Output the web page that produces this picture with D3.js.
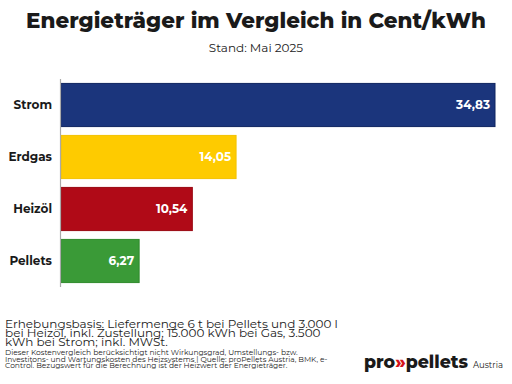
<!DOCTYPE html>
<html><head><meta charset="utf-8">
<script src="https://cdn.jsdelivr.net/npm/d3@7"></script>
<style>body{margin:0;background:#fff}svg{display:block}</style>
</head><body>
<script>
const categories = ["Strom", "Erdgas", "Heizöl", "Pellets"];
const values = [34.83, 14.05, 10.54, 6.27];
const valueLabels = ["34,83", "14,05", "10,54", "6,27"];
const colors = ["#1b357c", "#fecb00", "#b00a17", "#3a9a37"];
const strokes = ["#0f2460", "#f3c200", "#9a0812", "#2f8a2c"];
const title = "Energieträger im Vergleich in Cent/kWh";
const subtitle = "Stand: Mai 2025";
const noteLines = ["Erhebungsbasis: Liefermenge 6 t bei Pellets und 3.000 l",
  "bei Heizöl, inkl. Zustellung; 15.000 kWh bei Gas, 3.500",
  "kWh bei Strom; inkl. MWSt."];
const smallLines = ["Dieser Kostenvergleich berücksichtigt nicht Wirkungsgrad, Umstellungs- bzw.",
  "Investitons- und Wartungskosten des Heizsystems | Quelle: proPellets Austria, BMK, e-",
  "Control. Bezugswert für die Berechnung ist der Heizwert der Energieträger."];

const W = 512, H = 384;
const font = "Montserrat, 'Open Sans', 'DejaVu Sans', sans-serif";
const svg = d3.select("body").append("svg").attr("width", W).attr("height", H);

svg.append("text").attr("x", 256).attr("y", 28).attr("text-anchor", "middle")
  .attr("font-family", font).attr("font-weight", 800).attr("font-size", 22)
  .attr("fill", "#1a1a1a").attr("textLength", 460).attr("lengthAdjust", "spacingAndGlyphs").text(title);
svg.append("text").attr("x", 256).attr("y", 52).attr("text-anchor", "middle")
  .attr("font-family", font).attr("font-size", 12).attr("fill", "#222").text(subtitle);

const x = d3.scaleLinear().domain([0, 34.83]).range([61, 495]);
const y = d3.scaleBand().domain(categories).range([79, 287]).paddingInner(0.17).paddingOuter(0.085);

const data = categories.map((c, i) => ({c, v: values[i], l: valueLabels[i], col: colors[i], s: strokes[i]}));

svg.append("g").selectAll("rect").data(data).join("rect")
  .attr("x", x(0)).attr("y", d => y(d.c)).attr("width", d => x(d.v) - x(0)).attr("height", y.bandwidth())
  .attr("fill", d => d.col).attr("stroke", d => d.s).attr("stroke-width", 1);

svg.append("line").attr("x1", 60.5).attr("x2", 60.5).attr("y1", 79).attr("y2", 287)
  .attr("stroke", "#aaa").attr("stroke-width", 1.2);

svg.append("g").selectAll("text").data(data).join("text")
  .attr("x", 52).attr("y", d => y(d.c) + y.bandwidth() / 2).attr("dy", "0.35em")
  .attr("text-anchor", "end").attr("font-family", font).attr("font-weight", "bold")
  .attr("font-size", 12).attr("fill", "#1a1a1a").text(d => d.c);

svg.append("g").selectAll("text").data(data).join("text")
  .attr("x", d => x(d.v) - 5).attr("y", d => y(d.c) + y.bandwidth() / 2).attr("dy", "0.35em")
  .attr("text-anchor", "end").attr("font-family", font).attr("font-weight", "bold")
  .attr("font-size", 12).attr("fill", "#fff").text(d => d.l);

svg.append("g").selectAll("text").data(noteLines).join("text")
  .attr("x", 5).attr("y", (d, i) => 328 + i * 9)
  .attr("font-family", font).attr("font-size", 12).attr("fill", "#222").text(d => d);

svg.append("g").selectAll("text").data(smallLines).join("text")
  .attr("x", 5).attr("y", (d, i) => 355 + i * 6.7)
  .attr("font-family", font).attr("font-size", 7.5).attr("fill", "#222").text(d => d);

const logo = svg.append("text").attr("x", 364).attr("y", 368)
  .attr("font-family", font).attr("font-weight", 800).attr("font-size", 18).attr("fill", "#1a1a1a")
  .attr("textLength", 104).attr("lengthAdjust", "spacingAndGlyphs");
logo.append("tspan").text("pro");
logo.append("tspan").attr("fill", "#d4121a").text("»");
logo.append("tspan").text("pellets");
svg.append("text").attr("x", 473).attr("y", 368).attr("font-family", font)
  .attr("font-size", 8.5).attr("fill", "#222").text("Austria");
</script>
</body></html>
